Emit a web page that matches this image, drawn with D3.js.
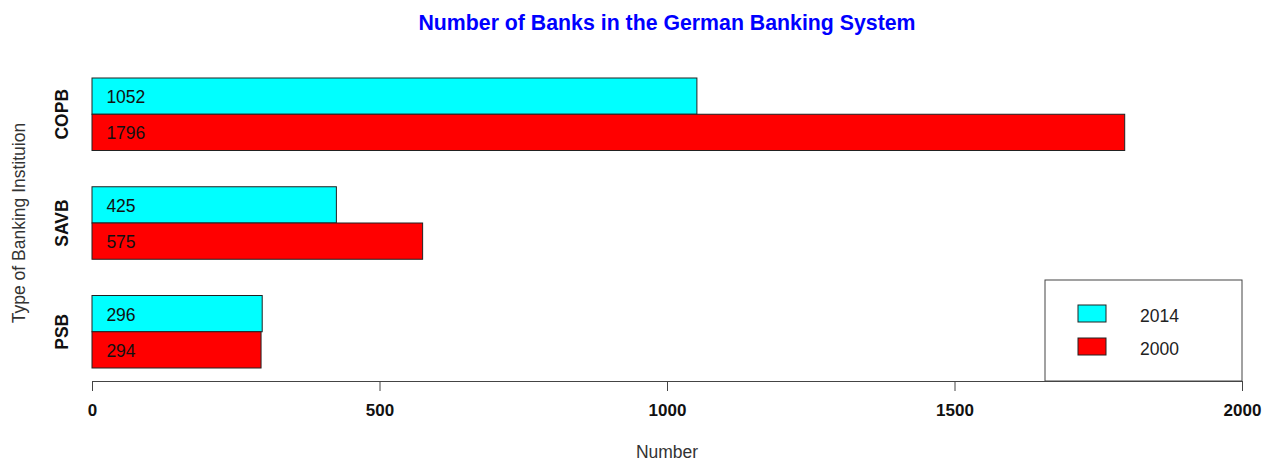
<!DOCTYPE html>
<html><head><meta charset="utf-8">
<script src="https://cdn.jsdelivr.net/npm/d3@7"></script>
<style>body{margin:0;background:#fff}svg{display:block;font-family:"Liberation Sans",Arial,sans-serif}</style>
</head><body><svg id="c" width="1264" height="464"></svg>
<script>
const categories = ["COPB", "SAVB", "PSB"];
const years = ["2014", "2000"];
const values2014 = [1052, 425, 296];
const values2000 = [1796, 575, 294];
const xTicks = [0, 500, 1000, 1500, 2000];
const colors = {"2014": "#00FFFF", "2000": "#FF0000"};

const svg = d3.select("#c");
const x = d3.scaleLinear().domain([0, 2000]).range([92, 1242]);
const y = d3.scaleBand().domain(categories).range([78, 368]).paddingInner(1/3).paddingOuter(0);
const yi = d3.scaleBand().domain(years).range([0, y.bandwidth()]);

const data = categories.map((c, i) => ({cat: c, vals: [{year: "2014", v: values2014[i]}, {year: "2000", v: values2000[i]}]}));

// title
svg.append("text").attr("x", 667).attr("y", 30).attr("text-anchor", "middle")
  .attr("font-size", 21.3).attr("font-weight", "bold").attr("fill", "#0000FF")
  .text("Number of Banks in the German Banking System");

const g = svg.selectAll("g.grp").data(data).join("g").attr("class", "grp")
  .attr("transform", d => `translate(0,${y(d.cat)})`);
g.selectAll("rect").data(d => d.vals).join("rect")
  .attr("x", x(0)).attr("y", d => yi(d.year))
  .attr("width", d => x(d.v) - x(0)).attr("height", yi.bandwidth())
  .attr("fill", d => colors[d.year]).attr("stroke", "#222").attr("stroke-width", 1);
g.selectAll("text.val").data(d => d.vals).join("text").attr("class", "val")
  .attr("x", x(25)).attr("y", d => yi(d.year) + yi.bandwidth() / 2 + 7)
  .attr("font-size", 17.5).attr("fill", "#111").text(d => d.v);

// category labels
svg.selectAll("text.cat").data(categories).join("text").attr("class", "cat")
  .attr("transform", d => `translate(68,${y(d) + y.bandwidth() / 2}) rotate(-90)`)
  .attr("text-anchor", "middle").attr("font-size", 17.5).attr("font-weight", "bold").attr("fill", "#111")
  .text(d => d);

// x axis
const ax = svg.append("g").attr("transform", "translate(0,381)")
  .call(d3.axisBottom(x).tickValues(xTicks).tickSize(10).tickSizeOuter(0).tickPadding(13).tickFormat(d3.format("d")));
ax.select(".domain").attr("stroke", "#444");
ax.selectAll(".tick line").attr("stroke", "#444");
ax.selectAll(".tick text").attr("font-size", 17).attr("font-weight", "bold").attr("fill", "#111")
  .attr("font-family", '"Liberation Sans",Arial,sans-serif');

// axis titles
svg.append("text").attr("x", 667).attr("y", 458).attr("text-anchor", "middle")
  .attr("font-size", 17.5).attr("fill", "#333").text("Number");
svg.append("text").attr("transform", "translate(25,223) rotate(-90)").attr("text-anchor", "middle")
  .attr("font-size", 17.5).attr("fill", "#333").text("Type of Banking Instituion");

// legend
const lg = svg.append("g");
lg.append("rect").attr("x", 1045).attr("y", 280).attr("width", 197).attr("height", 101)
  .attr("fill", "#fff").attr("stroke", "#444");
years.forEach((yr, i) => {
  lg.append("rect").attr("x", 1078).attr("y", 305 + i * 33).attr("width", 28).attr("height", 17)
    .attr("fill", colors[yr]).attr("stroke", "#222");
  lg.append("text").attr("x", 1140).attr("y", 322 + i * 33).attr("font-size", 17.5).attr("fill", "#222").text(yr);
});
</script></body></html>
